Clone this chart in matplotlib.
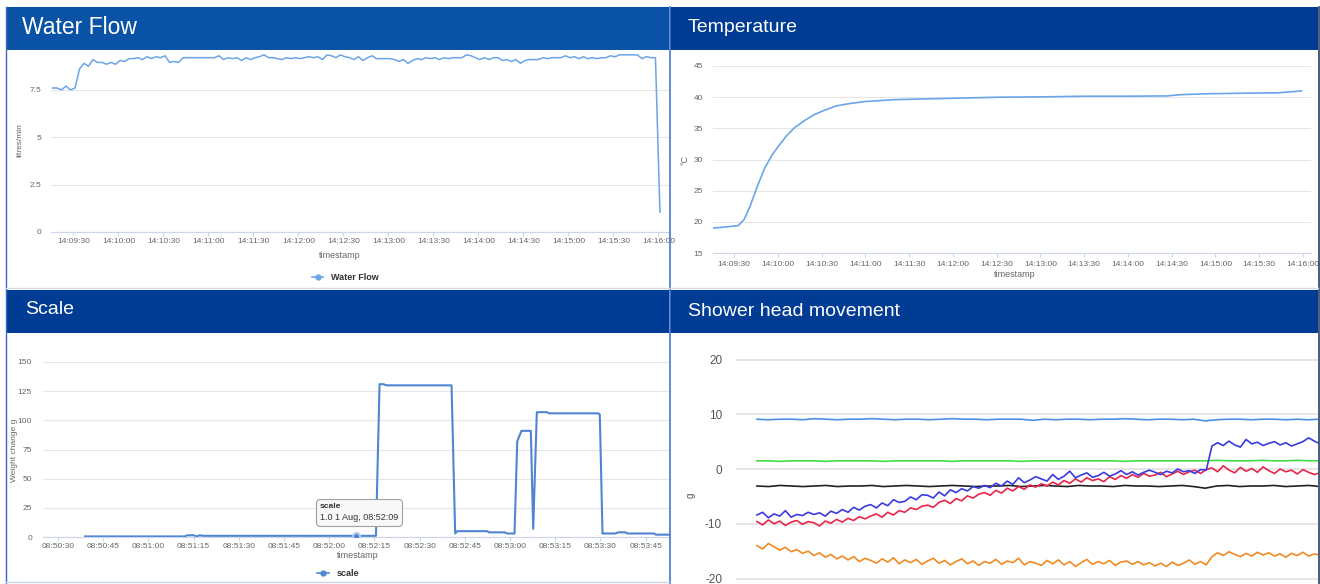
import numpy as np
import pandas as pd
import matplotlib
matplotlib.use('Agg')
import matplotlib.pyplot as plt
import matplotlib.dates as mdates
from matplotlib.patches import Rectangle
from matplotlib.lines import Line2D
from matplotlib.offsetbox import TextArea, VPacker, AnnotationBbox

plt.rcParams['font.family'] = ['Liberation Sans', 'DejaVu Sans']
plt.rcParams['axes.unicode_minus'] = False

W, H = 1320, 584
day = '2017-08-01 '

# ---------------- data ----------------
# water flow, one reading every 3 s from 14:09:16
flow_start = '14:09:16'
flow_step = '3s'
flow_values = [
    7.6, 7.6, 7.5, 7.7, 7.5, 7.6, 8.6, 8.9, 8.75, 9.1,
    8.95, 8.95, 8.85, 8.95, 8.85, 9.05, 9.0, 9.15, 9.15, 9.2,
    9.1, 9.25, 9.15, 9.25, 9.2, 9.3, 8.95, 9.0, 8.95, 9.2,
    9.2, 9.2, 9.2, 9.2, 9.2, 9.2, 9.2, 9.3, 9.1, 9.2,
    9.15, 9.2, 9.05, 9.2, 9.1, 9.2, 9.25, 9.35, 9.2, 9.2,
    9.15, 9.1, 9.2, 9.15, 9.2, 9.15, 9.2, 9.25, 9.2, 9.25,
    9.1, 9.35, 9.3, 9.2, 9.35, 9.25, 9.2, 9.1, 9.25, 9.05,
    9.2, 9.3, 9.15, 9.15, 9.15, 9.15, 9.1, 9.0, 9.1, 8.9,
    9.05, 9.15, 9.1, 9.2, 9.15, 9.2, 9.1, 9.2, 9.15, 9.2,
    9.2, 9.2, 9.35, 9.3, 9.2, 9.1, 9.2, 9.1, 9.2, 9.2,
    9.05, 9.1, 9.0, 9.1, 8.9, 9.05, 9.1, 9.1, 9.1, 9.2,
    9.15, 9.2, 9.2, 9.2, 9.3, 9.2, 9.25, 9.15, 9.25, 9.15,
    9.2, 9.15, 9.2, 9.2, 9.3, 9.25, 9.35, 9.35, 9.35, 9.35,
    9.35, 9.15, 9.25, 9.2, 9.2, 1.05,
]

temp_times = ['14:09:16', '14:09:25', '14:09:33', '14:09:37', '14:09:41', '14:09:46',
              '14:09:51', '14:09:56', '14:10:01', '14:10:06', '14:10:11', '14:10:18',
              '14:10:25', '14:10:32', '14:10:40', '14:10:50', '14:11:00', '14:11:20',
              '14:11:37', '14:12:05', '14:12:33', '14:13:02', '14:13:30', '14:13:58',
              '14:14:27', '14:14:36', '14:14:55', '14:15:24', '14:15:43', '14:15:59']
temp_values = [19.0, 19.2, 19.4, 20.4, 22.5, 25.7,
               28.6, 30.7, 32.3, 33.8, 35.0, 36.2,
               37.2, 37.9, 38.6, 39.0, 39.3, 39.6,
               39.7, 39.85, 40.0, 40.05, 40.15, 40.15,
               40.2, 40.4, 40.55, 40.65, 40.7, 41.0]

scale_times = ['08:50:39', '08:51:12', '08:51:13', '08:51:15', '08:51:16', '08:51:17',
               '08:51:18', '08:52:09', '08:52:15.5', '08:52:16.7', '08:52:18', '08:52:19',
               '08:52:40.6', '08:52:41.8', '08:52:42.5', '08:52:52.4', '08:52:53', '08:52:58.3',
               '08:52:59', '08:53:01.5', '08:53:02.4', '08:53:03.8', '08:53:06.9', '08:53:07.7',
               '08:53:08.9', '08:53:12.3', '08:53:13', '08:53:29.3', '08:53:29.8', '08:53:30.7',
               '08:53:34.9', '08:53:36', '08:53:38.3', '08:53:39', '08:53:47.8', '08:53:48.5',
               '08:53:53']
scale_values = [0.5, 0.5, 1.5, 1.5, 0.5, 1.5,
                1.0, 1.0, 1.0, 131, 131, 130,
                130, 3, 5, 5, 4, 4,
                3, 3, 82, 91, 91, 7,
                107, 107, 106, 106, 105, 3,
                3, 4, 4, 3, 3, 2,
                2]
tip_time = '08:52:09'
tip_value = 1.0

# shower head movement (g), samples across the visible window
sh_blue = [
    -8.4, -7.9, -8.9, -8.2, -8.6, -7.6, -8.8, -8.3, -8.5, -7.9,
    -8.3, -8.0, -8.6, -7.7, -8.1, -7.4, -7.9, -7.0, -7.5, -6.8,
    -6.5, -7.1, -6.2, -6.7, -5.6, -6.1, -5.9, -5.1, -5.6, -4.7,
    -4.8, -5.3, -4.2, -4.9, -3.8, -4.3, -3.6, -4.0, -3.2, -3.5,
    -3.0, -3.4, -2.6, -3.1, -2.2, -2.8, -1.6, -2.5, -2.0, -1.4,
    -1.8, -2.2, -1.0, -1.9, -1.3, -0.4, -1.6, -1.1, -0.7, -1.5,
    -1.2, -0.6, -1.3, -0.9, -0.3, -1.0, -0.5, -1.1, -0.6, -0.2,
    -0.6, -1.0, -0.4, -0.7, 0.0, -0.5, -0.3, -0.8, -0.1, -0.2,
    4.2, 4.8, 4.3, 5.1, 4.4, 4.0, 5.4, 4.6, 4.9, 4.3,
    4.7, 5.0, 4.4, 4.8, 4.2, 4.6, 5.0, 5.7, 5.1, 4.6,
]
sh_red = [
    -9.6, -10.2, -9.3, -10.0, -9.5, -10.3, -9.7, -9.4, -10.1, -9.6,
    -9.8, -10.4, -9.5, -9.9, -9.2, -9.7, -9.0, -9.4, -8.7, -9.1,
    -8.6, -8.2, -8.8, -7.9, -8.4, -7.6, -7.9, -7.1, -7.4, -6.8,
    -6.6, -7.0, -6.1, -5.7, -6.3, -5.4, -5.8, -4.9, -5.3, -4.6,
    -4.3, -4.8, -3.9, -4.4, -3.5, -4.0, -3.2, -3.7, -2.9, -3.3,
    -2.7, -3.1, -2.4, -2.9, -2.1, -2.6, -1.8, -2.4, -1.6, -2.1,
    -1.8, -2.3, -1.4, -1.9, -1.2, -1.7, -1.0, -1.5, -0.8, -1.3,
    -1.1, -0.6, -1.4, -0.9, -0.4, -1.0, -0.5, -0.2, -0.8, -0.1,
    0.2, -0.5, 0.6, -0.2, -0.7, 0.3, -0.4, 0.1, -0.6, 0.4,
    -0.3, -0.8, 0.0, -0.5, -0.2, -0.9, -0.1, -0.6, -1.0, -0.7,
]
sh_orange = [
    -14.0, -14.6, -13.6, -14.2, -14.8, -14.3, -15.1, -14.7, -15.4, -15.0,
    -15.8, -15.3, -16.1, -15.6, -16.4, -15.9, -16.6, -16.0, -16.9, -16.3,
    -16.7, -17.2, -16.4, -17.0, -16.2, -17.3, -16.6, -17.1, -16.5, -17.4,
    -16.8, -16.3, -17.2, -16.7, -17.5, -16.9, -16.4, -17.3, -16.8, -17.6,
    -16.9, -17.2, -16.5, -17.4, -16.8, -17.1, -16.3, -17.5, -16.9, -17.2,
    -17.6, -16.7, -17.3, -16.6, -17.5, -16.9, -17.8, -17.1, -16.5, -17.4,
    -16.9, -17.3, -16.7, -17.6, -17.0, -16.8, -17.4, -16.9, -17.5, -17.1,
    -17.7, -17.2, -17.8, -17.0, -17.6, -17.2, -16.6, -17.4, -16.9, -17.5,
    -16.0, -15.3, -15.8, -15.1, -15.6, -16.0, -15.4, -15.9, -15.2, -15.7,
    -15.3, -15.9, -15.5, -16.1, -15.4, -15.8, -15.2, -15.9, -15.5, -15.7,
]
sh_light = [9.1, 9.0, 9.1, 9.1, 9.0, 9.2, 9.1, 9.0, 9.1, 9.1,
            9.2, 9.1, 9.0, 9.1, 9.1, 9.0, 9.1, 9.2, 9.1, 9.1,
            9.0, 9.1, 9.1, 9.1, 8.9, 9.1, 9.0, 9.1, 9.1, 9.0,
            9.1, 9.1, 9.2, 9.1, 9.0, 9.1, 9.1, 9.0, 9.1, 8.8,
            9.0, 9.1, 9.1, 9.0, 9.1, 9.1, 9.0, 9.1, 9.0, 9.1]
sh_green = [1.5, 1.5, 1.4, 1.5, 1.5, 1.5, 1.4, 1.5, 1.5, 1.5,
            1.5, 1.4, 1.5, 1.5, 1.5, 1.5, 1.5, 1.4, 1.5, 1.5,
            1.5, 1.5, 1.5, 1.4, 1.5, 1.5, 1.5, 1.5, 1.5, 1.5,
            1.5, 1.5, 1.4, 1.5, 1.5, 1.5, 1.5, 1.5, 1.5, 1.5,
            1.6, 1.5, 1.5, 1.5, 1.6, 1.5, 1.5, 1.6, 1.5, 1.5]
sh_black = [-3.1, -3.2, -3.0, -3.1, -3.2, -3.1, -3.0, -3.2, -3.1, -3.1,
            -3.0, -3.2, -3.1, -3.0, -3.1, -3.2, -3.1, -3.0, -3.1, -3.2,
            -3.1, -3.1, -3.0, -3.2, -3.1, -3.0, -3.1, -3.2, -3.0, -3.1,
            -3.1, -3.2, -3.0, -3.1, -3.1, -3.2, -3.1, -3.0, -3.2, -3.5,
            -3.1, -3.0, -3.2, -3.1, -3.1, -3.0, -3.2, -3.1, -3.0, -3.2]

# ---------------- figure ----------------
fig = plt.figure(figsize=(W / 100, H / 100), dpi=100)
fig.patch.set_facecolor('white')


def px_axes(x0, y0, x1, y1):
    return fig.add_axes([x0 / W, 1 - y1 / H, (x1 - x0) / W, (y1 - y0) / H])


def px_rect(x0, y0, x1, y1, color, z=0):
    fig.add_artist(Rectangle((x0 / W, 1 - y1 / H), (x1 - x0) / W, (y1 - y0) / H,
                             transform=fig.transFigure, facecolor=color,
                             edgecolor='none', zorder=z))


def px_line(x0, y0, x1, y1, color, lw=1.0):
    fig.add_artist(Line2D([x0 / W, x1 / W], [1 - y0 / H, 1 - y1 / H],
                          transform=fig.transFigure, color=color, lw=lw, zorder=5))


def hc_style(ax):
    ax.set_facecolor('none')
    for s in ['top', 'right', 'left']:
        ax.spines[s].set_visible(False)
    ax.spines['bottom'].set_color('#ccd6eb')
    ax.grid(axis='y', color='#e6e6e6', lw=0.8)
    ax.set_axisbelow(True)
    ax.tick_params(axis='y', length=0, pad=7, labelsize=6, labelcolor='#666666')
    ax.tick_params(axis='x', length=3, color='#ccd6eb', labelsize=6,
                   labelcolor='#666666', pad=1.5)


def ts(s):
    return pd.Timestamp(day + s)


# headers
px_rect(6, 7, 669, 50, '#0a52a6')
px_rect(670, 7, 1318, 50, '#003b94')
px_rect(6, 290, 669, 333, '#003b94')
px_rect(670, 290, 1318, 333, '#003b94')
fig.text(22 / W, 1 - 28 / H, 'Water Flow', color='white', fontsize=16.5, va='center')
fig.text(688 / W, 1 - 28 / H, 'Temperature', color='white', fontsize=14, va='center')
fig.text(25 / W, 1 - 310 / H, 'Scale', color='white', fontsize=14, va='center')
fig.text(688 / W, 1 - 312 / H, 'Shower head movement', color='white', fontsize=14, va='center')

# borders
px_line(6.5, 7, 6.5, 584, '#3a6ac0', 1.0)
px_line(669.5, 7, 669.5, 584, '#4676cc', 1.2)
px_line(1318.5, 7, 1318.5, 584, '#2b3e66', 1.2)
px_line(6, 288.5, 1318, 288.5, '#d4dbe8', 1.0)
px_line(6, 581.5, 669, 581.5, '#c8d4e8', 1.0)

line_c = '#6aa5e8'

# ---- water flow
ax1 = px_axes(51, 52, 670, 232)
hc_style(ax1)
flow_t = pd.date_range(ts(flow_start), periods=len(flow_values), freq=flow_step)
ax1.plot(flow_t.to_pydatetime(), flow_values, color=line_c, lw=1.1)
ax1.set_ylim(0, 9.5)
ax1.set_yticks([0, 2.5, 5, 7.5])
ax1.set_yticklabels(['0', '2.5', '5', '7.5'])
ax1.set_xlim(ts('14:09:15'), ts('14:16:07.7'))
ax1.xaxis.set_major_locator(mdates.SecondLocator(bysecond=[0, 30]))
ax1.xaxis.set_major_formatter(mdates.DateFormatter('%H:%M:%S'))
fig.text(340 / W, 1 - 255 / H, 'timestamp', fontsize=6.5, color='#666666', ha='center', va='center')
fig.text(20 / W, 1 - 140 / H, 'litres/min', fontsize=6, color='#666666', rotation=90,
         ha='center', va='center')
h = Line2D([], [], color=line_c, marker='o', ms=3.5, lw=1.2)
ax1.legend([h], ['Water Flow'], loc='center', bbox_to_anchor=(345 / W, 1 - 278 / H),
           bbox_transform=fig.transFigure, frameon=False, handlelength=1.3,
           prop=dict(size=6.5, weight='bold'), labelcolor='#333333')

# ---- temperature
ax2 = px_axes(713, 66, 1311, 253)
hc_style(ax2)
ax2.plot([ts(t) for t in temp_times], temp_values, color=line_c, lw=1.2)
ax2.set_ylim(15, 45)
ax2.set_yticks([15, 20, 25, 30, 35, 40, 45])
ax2.set_xlim(ts('14:09:15.6'), ts('14:16:05.5'))
ax2.xaxis.set_major_locator(mdates.SecondLocator(bysecond=[0, 30]))
ax2.xaxis.set_major_formatter(mdates.DateFormatter('%H:%M:%S'))
ax2.tick_params(axis='x', pad=3)
fig.text(1015 / W, 1 - 275 / H, 'timestamp', fontsize=6.5, color='#666666', ha='center', va='center')
fig.text(685 / W, 1 - 160 / H, '°C', fontsize=6.5, color='#666666', rotation=90,
         ha='center', va='center')

# ---- scale
ax3 = px_axes(43, 362, 670, 537)
hc_style(ax3)
scale_c = '#4f85d0'
ax3.plot([ts(t) for t in scale_times], scale_values, color=scale_c, lw=1.5)
ax3.set_ylim(0, 150)
ax3.set_yticks([0, 25, 50, 75, 100, 125, 150])
ax3.tick_params(axis='y', pad=8)
ax3.set_xlim(ts('08:50:25'), ts('08:53:53.1'))
ax3.xaxis.set_major_locator(mdates.SecondLocator(bysecond=[0, 15, 30, 45]))
ax3.xaxis.set_major_formatter(mdates.DateFormatter('%H:%M:%S'))
fig.text(358 / W, 1 - 556 / H, 'timestamp', fontsize=6.5, color='#666666', ha='center', va='center')
fig.text(15 / W, 1 - 450 / H, 'Weight change g', fontsize=6, color='#666666', rotation=90,
         ha='center', va='center')
h3 = Line2D([], [], color=scale_c, marker='o', ms=3.5, lw=1.2)
ax3.legend([h3], ['scale'], loc='center', bbox_to_anchor=(338 / W, 1 - 574 / H),
           bbox_transform=fig.transFigure, frameon=False, handlelength=1.3,
           prop=dict(size=6.5, weight='bold'), labelcolor='#333333')
# tooltip
ax3.plot([ts(tip_time)], [tip_value], 'o', ms=5, mfc='#4a84d0', mec='#b0cdf0', mew=1.5,
         zorder=6)
tip = VPacker(children=[TextArea('scale', textprops=dict(fontsize=6, weight='bold', color='#333333')),
                        TextArea(f'{tip_value:.1f} 1 Aug, {tip_time}',
                                 textprops=dict(fontsize=6.5, color='#333333'))],
              align='left', pad=0, sep=2)
ab = AnnotationBbox(tip, (ts(tip_time), tip_value), xycoords='data',
                    xybox=(2, 17), boxcoords='offset points', box_alignment=(0.5, 0.5),
                    frameon=True, pad=0.3,
                    bboxprops=dict(boxstyle='round,pad=0.3', fc='#f8f8f8', ec='#a0a0a0', lw=0.8))
ax3.add_artist(ab)

# ---- shower head movement
ax4 = px_axes(736, 336, 1318, 584)
ax4.set_facecolor('none')
for s in ax4.spines.values():
    s.set_visible(False)
ax4.grid(axis='y', color='#e0e0e0', lw=1.2)
ax4.set_axisbelow(True)
ax4.set_xticks([])
ax4.tick_params(axis='y', length=0, pad=10, labelsize=8.5, labelcolor='#555555')
n = len(sh_blue)
xi = np.arange(n)
xf = np.linspace(0, n - 1, len(sh_light))
ax4.plot(xf, sh_light, color='#4a90e2', lw=1.2)
ax4.plot(xf, sh_green, color='#44dd44', lw=1.2)
ax4.plot(xf, sh_black, color='#222222', lw=1.2)
ax4.plot(xi, sh_orange, color='#f08a24', lw=1.2)
ax4.plot(xi, sh_red, color='#e8254a', lw=1.2)
ax4.plot(xi, sh_blue, color='#3a3ae0', lw=1.2)
ax4.set_ylim(-21.0, 24.3)
ax4.set_yticks([-20, -10, 0, 10, 20])
ax4.set_xlim(-3.69, 98.65)
fig.text(691 / W, 1 - 495 / H, 'g', fontsize=7, color='#555555', rotation=90,
         ha='center', va='center')

fig.savefig('out.png', dpi=100)
